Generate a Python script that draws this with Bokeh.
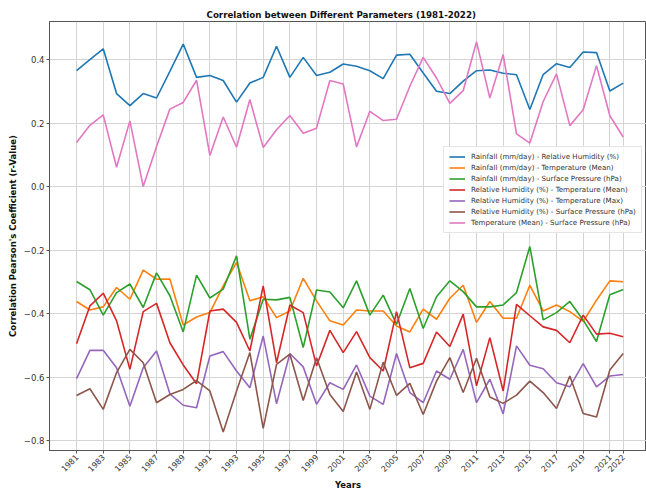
from bokeh.plotting import figure
from bokeh.models import FixedTicker, Range1d, Legend, LegendItem, CustomJSTickFormatter
from bokeh.embed import file_html
from bokeh.resources import INLINE
import math

years = list(range(1981, 2023))

rain_rh = [0.365, 0.400, 0.434, 0.293, 0.255, 0.293, 0.279, 0.363, 0.449, 0.344,
           0.350, 0.334, 0.266, 0.326, 0.344, 0.442, 0.344, 0.407, 0.350, 0.360,
           0.386, 0.379, 0.365, 0.340, 0.414, 0.417, 0.358, 0.300, 0.293, 0.332,
           0.365, 0.367, 0.357, 0.352, 0.243, 0.353, 0.387, 0.375, 0.424, 0.422,
           0.301, 0.326]
rain_temp = [-0.362, -0.389, -0.379, -0.318, -0.355, -0.263, -0.292, -0.291, -0.436, -0.411,
             -0.397, -0.313, -0.239, -0.360, -0.347, -0.413, -0.392, -0.289, -0.360, -0.423,
             -0.436, -0.389, -0.392, -0.392, -0.439, -0.458, -0.386, -0.418, -0.352, -0.311,
             -0.428, -0.362, -0.415, -0.415, -0.311, -0.392, -0.373, -0.394, -0.425, -0.358,
             -0.297, -0.300]
rain_sp = [-0.299, -0.325, -0.405, -0.334, -0.307, -0.381, -0.272, -0.344, -0.458, -0.279,
           -0.351, -0.323, -0.218, -0.481, -0.355, -0.357, -0.349, -0.507, -0.326, -0.332,
           -0.382, -0.297, -0.405, -0.342, -0.434, -0.321, -0.447, -0.347, -0.297, -0.331,
           -0.379, -0.379, -0.373, -0.334, -0.189, -0.420, -0.397, -0.362, -0.421, -0.488,
           -0.341, -0.324]
rh_tmean = [-0.495, -0.376, -0.336, -0.423, -0.576, -0.394, -0.368, -0.492, -0.562, -0.621,
            -0.392, -0.386, -0.428, -0.518, -0.313, -0.555, -0.373, -0.397, -0.565, -0.453,
            -0.523, -0.457, -0.539, -0.581, -0.394, -0.571, -0.557, -0.458, -0.504, -0.402,
            -0.628, -0.476, -0.644, -0.371, -0.407, -0.442, -0.453, -0.492, -0.405, -0.465,
            -0.462, -0.473]
rh_tmax = [-0.605, -0.516, -0.516, -0.571, -0.692, -0.571, -0.518, -0.653, -0.689, -0.697,
           -0.534, -0.520, -0.581, -0.634, -0.471, -0.684, -0.526, -0.568, -0.686, -0.618,
           -0.639, -0.562, -0.660, -0.686, -0.526, -0.649, -0.681, -0.581, -0.607, -0.513,
           -0.681, -0.607, -0.716, -0.502, -0.563, -0.574, -0.618, -0.631, -0.558, -0.631,
           -0.597, -0.592]
rh_sp = [-0.658, -0.637, -0.702, -0.586, -0.513, -0.555, -0.681, -0.655, -0.639, -0.611,
         -0.644, -0.773, -0.644, -0.523, -0.762, -0.560, -0.528, -0.674, -0.539, -0.655,
         -0.709, -0.584, -0.702, -0.553, -0.658, -0.620, -0.718, -0.613, -0.539, -0.649,
         -0.541, -0.663, -0.683, -0.657, -0.613, -0.649, -0.699, -0.597, -0.715, -0.726,
         -0.578, -0.526]
tmean_sp = [0.139, 0.193, 0.226, 0.061, 0.207, 0.000, 0.126, 0.244, 0.265, 0.335,
            0.098, 0.219, 0.124, 0.274, 0.123, 0.179, 0.224, 0.168, 0.184, 0.334,
            0.323, 0.125, 0.237, 0.208, 0.212, 0.316, 0.407, 0.342, 0.262, 0.302,
            0.456, 0.279, 0.416, 0.166, 0.137, 0.268, 0.355, 0.192, 0.242, 0.381,
            0.223, 0.156]

series_labels = [
    "Rainfall (mm/day) - Relative Humidity (%)",
    "Rainfall (mm/day) - Temperature (Mean)",
    "Rainfall (mm/day) - Surface Pressure (hPa)",
    "Relative Humidity (%) - Temperature (Mean)",
    "Relative Humidity (%) - Temperature (Max)",
    "Relative Humidity (%) - Surface Pressure (hPa)",
    "Temperature (Mean) - Surface Pressure (hPa)",
]
series_values = [rain_rh, rain_temp, rain_sp, rh_tmean, rh_tmax, rh_sp, tmean_sp]
colors = ["#1f77b4", "#ff7f0e", "#2ca02c", "#d62728", "#9467bd", "#8c564b", "#e377c2"]

x_ticks = list(range(1981, 2022, 2)) + [2022]
y_ticks = [-0.8, -0.6, -0.4, -0.2, 0.0, 0.2, 0.4]

FONT = "DejaVu Sans"

p = figure(width=646, height=493, output_backend="svg", toolbar_location=None,
           x_range=Range1d(1978.97, 2023.75), y_range=Range1d(-0.8315, 0.52),
           min_border_left=49, min_border_right=0, min_border_top=21, min_border_bottom=43)

p.title.text = "Correlation between Different Parameters (1981-2022)"
p.title.align = "left"
p.title.offset = 157
p.title.text_font = FONT
p.title.text_font_size = "8.7px"
p.title.text_font_style = "bold"
p.title.text_color = "#111111"
p.title.standoff = 4

items = []
for lab, vals, col in zip(series_labels, series_values, colors):
    r = p.line(years, vals, line_color=col, line_width=1.6)
    items.append(LegendItem(label=lab, renderers=[r]))

legend = Legend(items=items, location=(394, 217))
legend.label_text_font = FONT
legend.label_text_font_size = "7.1px"
legend.label_text_color = "#333333"
legend.label_height = 9
legend.glyph_height = 9
legend.glyph_width = 16
legend.spacing = 2
legend.padding = 5
legend.margin = 0
legend.label_standoff = 6
legend.border_line_color = "#cccccc"
legend.background_fill_alpha = 0.85
p.add_layout(legend)

p.xaxis.ticker = FixedTicker(ticks=x_ticks)
p.yaxis.ticker = FixedTicker(ticks=y_ticks)
p.xgrid.ticker = FixedTicker(ticks=x_ticks)
p.ygrid.ticker = FixedTicker(ticks=y_ticks)
p.yaxis.formatter = CustomJSTickFormatter(code="return tick.toFixed(1).replace('-', '\u2212');")
p.xaxis.major_label_orientation = math.pi / 4

for ax in (p.xaxis[0], p.yaxis[0]):
    ax.major_label_text_font = FONT
    ax.major_label_text_color = "#333333"
    ax.axis_label_text_font = FONT
    ax.axis_label_text_font_size = "8.5px"
    ax.axis_label_text_font_style = "bold"
    ax.axis_label_text_color = "#111111"
    ax.axis_line_color = "#555555"
    ax.major_tick_line_color = "#555555"
    ax.major_tick_in = 0
    ax.major_tick_out = 3
    ax.minor_tick_line_color = None
    ax.major_label_standoff = 2

p.xaxis.major_label_text_font_size = "8px"
p.yaxis.major_label_text_font_size = "8.5px"
p.xaxis.axis_label_standoff = 2
p.yaxis.axis_label_standoff = 3

p.xaxis.axis_label = "Years"
p.yaxis.axis_label = "Correlation Pearson's Coefficient (r-Value)"

p.grid.grid_line_color = "#d4d4d4"
p.grid.grid_line_width = 1
p.outline_line_color = "#555555"

open("out.html", "w").write(file_html(p, INLINE))
